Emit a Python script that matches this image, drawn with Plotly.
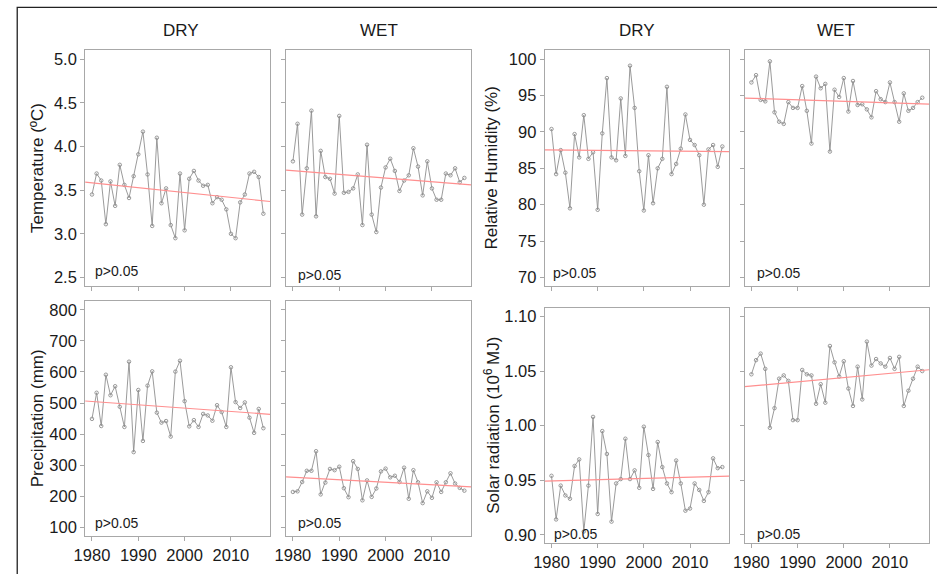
import plotly.graph_objects as go

W, H = 937, 574

years = list(range(1980, 2018))

temp_dry = [3.45, 3.69, 3.61, 3.11, 3.60, 3.32, 3.79, 3.56, 3.41, 3.66,
            3.91, 4.17, 3.68, 3.09, 4.10, 3.35, 3.52, 3.10, 2.95, 3.69,
            3.04, 3.63, 3.72, 3.61, 3.55, 3.56, 3.35, 3.42, 3.39, 3.28,
            3.00, 2.95, 3.36, 3.45, 3.69, 3.71, 3.65, 3.23]
temp_wet = [3.83, 4.26, 3.22, 3.75, 4.41, 3.20, 3.95, 3.65, 3.63, 3.46,
            4.35, 3.47, 3.48, 3.52, 3.68, 3.10, 4.02, 3.22, 3.02, 3.53,
            3.76, 3.86, 3.72, 3.49, 3.61, 3.67, 3.98, 3.77, 3.44, 3.83,
            3.52, 3.39, 3.39, 3.69, 3.67, 3.75, 3.59, 3.64]
precip_dry = [449, 533, 426, 591, 525, 554, 488, 423, 633, 342,
              542, 378, 556, 602, 469, 437, 442, 392, 601, 636,
              506, 425, 445, 423, 465, 460, 443, 493, 471, 423,
              615, 503, 484, 502, 453, 404, 481, 419]
precip_wet = [214, 216, 246, 282, 282, 345, 206, 244, 288, 284,
              295, 226, 197, 313, 288, 187, 251, 198, 225, 280,
              289, 261, 266, 246, 292, 192, 284, 245, 178, 216,
              195, 245, 214, 245, 274, 241, 227, 218]
rh_dry = [90.4, 84.2, 87.5, 84.4, 79.5, 89.7, 86.5, 92.3, 86.3, 87.2,
          79.3, 89.8, 97.4, 86.5, 86.1, 94.6, 86.7, 99.1, 93.3, 84.6,
          79.2, 86.8, 80.2, 85.0, 86.3, 96.2, 84.2, 85.6, 87.7, 92.4,
          88.9, 88.2, 86.8, 80.0, 87.6, 88.2, 85.2, 88.0]
rh_wet = [96.8, 97.8, 94.4, 94.2, 99.7, 92.7, 91.4, 91.1, 94.1, 93.3,
          93.3, 96.3, 92.9, 88.4, 97.6, 96.0, 96.6, 87.3, 95.8, 94.8,
          97.4, 92.8, 97.0, 93.7, 93.8, 93.1, 92.0, 95.6, 94.5, 94.1,
          96.8, 94.1, 91.4, 95.3, 92.9, 93.3, 94.1, 94.7]
solar_dry = [0.954, 0.914, 0.945, 0.936, 0.933, 0.963, 0.969, 0.903, 0.945, 1.008,
             0.919, 0.995, 0.974, 0.912, 0.947, 0.951, 0.988, 0.951, 0.959, 0.943,
             0.999, 0.973, 0.942, 0.985, 0.962, 0.947, 0.939, 0.968, 0.947, 0.922,
             0.924, 0.947, 0.941, 0.931, 0.939, 0.970, 0.961, 0.962]
solar_wet = [1.047, 1.060, 1.066, 1.052, 0.998, 1.016, 1.043, 1.046, 1.041, 1.005,
             1.005, 1.051, 1.047, 1.046, 1.020, 1.038, 1.021, 1.073, 1.058, 1.045,
             1.059, 1.034, 1.018, 1.054, 1.024, 1.077, 1.055, 1.061, 1.057, 1.054,
             1.062, 1.052, 1.063, 1.018, 1.032, 1.043, 1.054, 1.050]

# trend line values at the left and right edges of each panel
temp_dry_trend = [3.592, 3.370]
temp_wet_trend = [3.729, 3.561]
precip_dry_trend = [506.6, 463.8]
precip_wet_trend = [262.5, 230.4]
rh_dry_trend = [87.52, 87.29]
rh_wet_trend = [94.65, 93.83]
solar_dry_trend = [0.9491, 0.9537]
solar_wet_trend = [1.0357, 1.0512]

x_ticks = [1980, 1990, 2000, 2010]
x_ticklabels = ["1980", "1990", "2000", "2010"]
temp_ticks = [2.5, 3.0, 3.5, 4.0, 4.5, 5.0]
temp_ticklabels = ["2.5", "3.0", "3.5", "4.0", "4.5", "5.0"]
precip_ticks = [100, 200, 300, 400, 500, 600, 700, 800]
precip_ticklabels = ["100", "200", "300", "400", "500", "600", "700", "800"]
rh_ticks = [70, 75, 80, 85, 90, 95, 100]
rh_ticklabels = ["70", "75", "80", "85", "90", "95", "100"]
solar_ticks = [0.90, 0.95, 1.00, 1.05, 1.10]
solar_ticklabels = ["0.90", "0.95", "1.00", "1.05", "1.10"]

col_titles = ["DRY", "WET", "DRY", "WET"]
y_titles = ["Temperature (ºC)", "Precipitation (mm)",
            "Relative Humidity (%)", "Solar radiation (10<sup>6 </sup>MJ)"]
p_label = "p>0.05"

FONT = "Liberation Sans, Arial, sans-serif"
TXT = "#1a1a1a"
FRAME = "#a8a8a8"
LINE = "#8f8f8f"
TREND = "#ff8f8f"


def expand(lo, hi, f=0.04):
    d = (hi - lo) * f
    return [lo - d, hi + d]


xr = expand(min(years), max(years))

# panel pixel boxes: (left, right, top, bottom)
boxes = [
    (75.0, 262.3, 49.5, 285.7),   # temp dry
    (278.3, 465.7, 49.5, 285.7),  # temp wet
    (75.0, 262.3, 300.6, 536.0),  # precip dry
    (278.3, 465.7, 300.6, 536.0), # precip wet
    (540.0, 726.7, 49.5, 285.7),  # rh dry
    (742.3, 929.0, 49.5, 285.7),  # rh wet
    (540.0, 726.7, 307.3, 543.4), # solar dry
    (742.3, 929.0, 307.3, 543.4), # solar wet
]

panels = [
    (temp_dry, temp_dry_trend, temp_ticks, temp_ticklabels, True, False),
    (temp_wet, temp_wet_trend, temp_ticks, temp_ticklabels, False, False),
    (precip_dry, precip_dry_trend, precip_ticks, precip_ticklabels, True, True),
    (precip_wet, precip_wet_trend, precip_ticks, precip_ticklabels, False, True),
    (rh_dry, rh_dry_trend, rh_ticks, rh_ticklabels, True, False),
    (rh_wet, rh_wet_trend, rh_ticks, rh_ticklabels, False, False),
    (solar_dry, solar_dry_trend, solar_ticks, solar_ticklabels, True, True),
    (solar_wet, solar_wet_trend, solar_ticks, solar_ticklabels, False, True),
]

# p-label offsets (px from panel left, px from panel bottom)
p_offsets = [(8, 15.5), (10, 11.5), (8, 13.5), (10, 13.5),
             (6.5, 13.5), (10.5, 13.5), (7.5, 9), (10.5, 9)]

fig = go.Figure()
layout = dict(
    width=W, height=H,
    margin=dict(l=0, r=0, t=0, b=0),
    paper_bgcolor="white", plot_bgcolor="white",
    showlegend=False,
    font=dict(family=FONT, color=TXT, size=16),
)
annotations = []

for i, ((vals, trend, yt, ytl, ylab, xlab), box, poff) in enumerate(zip(panels, boxes, p_offsets)):
    n = i + 1
    xa = "x" if n == 1 else f"x{n}"
    ya = "y" if n == 1 else f"y{n}"
    left, right, top, bottom = box
    fig.add_trace(go.Scatter(
        x=years, y=vals, xaxis=xa, yaxis=ya, mode="lines+markers",
        line=dict(color=LINE, width=0.9),
        marker=dict(symbol="circle-open", size=3.5, color=LINE, line=dict(width=0.9)),
        hoverinfo="skip"))
    fig.add_trace(go.Scatter(
        x=xr, y=trend, xaxis=xa, yaxis=ya, mode="lines",
        line=dict(color=TREND, width=1.2), hoverinfo="skip"))
    yr = expand(min(yt), max(yt))
    layout["xaxis" if n == 1 else f"xaxis{n}"] = dict(
        domain=[left / W, right / W], range=xr, anchor=ya,
        tickvals=x_ticks, ticktext=x_ticklabels, showticklabels=xlab,
        ticks="outside", ticklen=4, tickwidth=1, tickcolor=FRAME,
        showline=True, linecolor=FRAME, linewidth=1, mirror=True,
        showgrid=False, zeroline=False, fixedrange=True,
        tickfont=dict(size=16.5, color=TXT, family=FONT))
    layout["yaxis" if n == 1 else f"yaxis{n}"] = dict(
        domain=[1 - bottom / H, 1 - top / H], range=yr, anchor=xa,
        tickvals=yt, ticktext=ytl, showticklabels=ylab,
        ticks="outside", ticklen=4, tickwidth=1, tickcolor=FRAME,
        showline=True, linecolor=FRAME, linewidth=1, mirror=True,
        showgrid=False, zeroline=False, fixedrange=True,
        tickfont=dict(size=16.5, color=TXT, family=FONT))
    annotations.append(dict(
        text=p_label, x=(left + poff[0]) / W, y=1 - (bottom - poff[1]) / H,
        xref="paper", yref="paper", xanchor="left", yanchor="middle",
        showarrow=False, font=dict(size=14, color=TXT, family=FONT)))

# column titles
for t, cx in zip(col_titles, [172, 372, 633, 835]):
    annotations.append(dict(text=t, x=cx / W, y=1 - 30 / H, xref="paper", yref="paper",
                            xanchor="center", yanchor="middle", showarrow=False,
                            font=dict(size=17, color=TXT, family=FONT)))

# y axis titles
for t, cx, cy in zip(y_titles, [27, 27, 486, 486], [167.6, 418.3, 167.6, 425.3]):
    annotations.append(dict(text=t, x=cx / W, y=1 - cy / H, xref="paper", yref="paper",
                            xanchor="center", yanchor="middle", showarrow=False,
                            textangle=-90, font=dict(size=17, color=TXT, family=FONT)))

layout["annotations"] = annotations
layout["shapes"] = [dict(type="rect", xref="paper", yref="paper",
                         x0=6.3 / W, x1=1.02, y0=-0.02, y1=1 - 6.3 / H,
                         line=dict(color="#222222", width=1.3))]
fig.update_layout(**layout)
fig.write_html("out.html", config={"displayModeBar": False},
               post_script="document.body.style.margin='0';document.body.style.overflow='hidden';")
